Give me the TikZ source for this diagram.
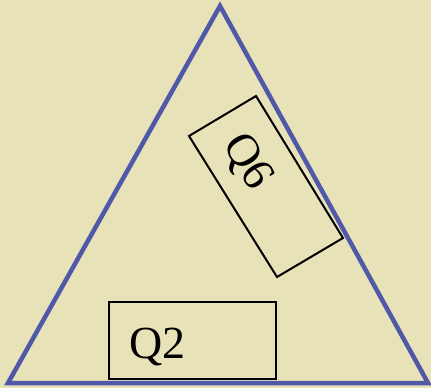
\documentclass[tikz,border=0pt]{standalone}
\usepackage{fontspec}
\setmainfont{Liberation Serif}
\definecolor{bg}{RGB}{232,226,184}
\definecolor{tri}{RGB}{82,88,168}
\begin{document}
\begin{tikzpicture}[x=1pt,y=-1pt,
  triline/.style={draw=tri,line width=4.5pt,line join=miter},
  qbox/.style={draw=black,line width=2pt},
  qlabel/.style={font=\fontsize{46}{46}\selectfont,inner sep=0pt}]
\fill[bg] (0,0) rectangle (431,388);
\useasboundingbox (0,0) rectangle (431,388);
\coordinate (apex) at (220,6);
\coordinate (bl) at (8,383);
\coordinate (br) at (428,383);
\draw[triline] (apex) -- (bl) -- (br) -- cycle;
% rotated box
\coordinate (ra) at (189,136);
\coordinate (rb) at (256,96);
\coordinate (rc) at (343,238);
\coordinate (rd) at (277,277);
\draw[qbox] (ra) -- (rb) -- (rc) -- (rd) -- cycle;
\node[qlabel,rotate=-58.5] (q6) at (247,162) {Q6};
% bottom box
\draw[qbox] (109,302) rectangle (276,379);
\node[qlabel,anchor=base west] (q2) at (129,358) {Q2};
\end{tikzpicture}
\end{document}
